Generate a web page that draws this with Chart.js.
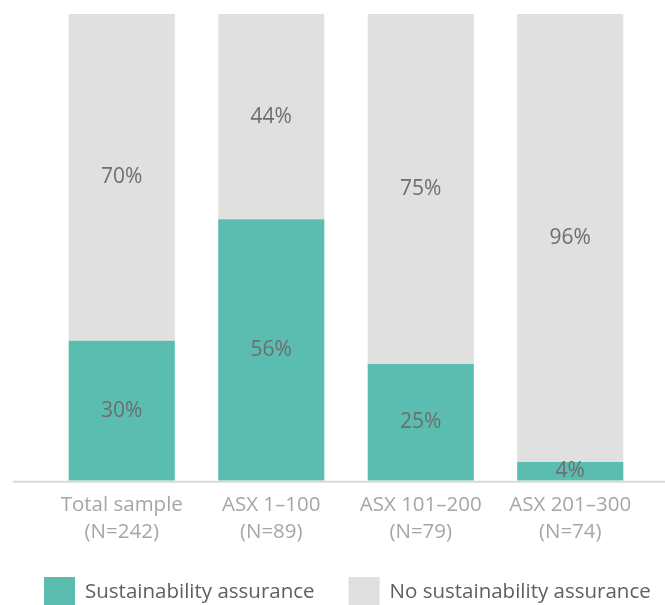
<!DOCTYPE html>
<html>
<head>
<meta charset="utf-8">
<script src="https://cdn.jsdelivr.net/npm/chart.js@4/dist/chart.umd.min.js"></script>
<style>
  html, body { margin: 0; padding: 0; background: #ffffff; }
  #wrap { width: 665px; height: 605px; position: relative; }
</style>
</head>
<body>
<div id="wrap"><canvas id="c" width="665" height="605"></canvas></div>
<script>
// Share of companies with and without sustainability assurance, by ASX band
const categories = [
  ['Total sample', '(N=242)'],
  ['ASX 1\u2013100', '(N=89)'],
  ['ASX 101\u2013200', '(N=79)'],
  ['ASX 201\u2013300', '(N=74)']
];
const assured = [30, 56, 25, 4];
const notAssured = [70, 44, 75, 96];
const seriesNames = ['Sustainability assurance', 'No sustainability assurance'];
const seriesColors = ['#5bbdb0', '#e0e0e0'];

const FONT = "'Open Sans', 'DejaVu Sans', sans-serif";
const LABEL_SIZE = 21;
const TEXT_SIZE = 20.5;

// Percent labels centred in each stacked segment
const segmentLabels = {
  id: 'segmentLabels',
  afterDatasetsDraw(chart) {
    const ctx = chart.ctx;
    ctx.save();
    ctx.font = LABEL_SIZE + 'px ' + FONT;
    ctx.fillStyle = '#6e6e6e';
    ctx.textAlign = 'center';
    ctx.textBaseline = 'middle';
    chart.data.datasets.forEach((ds, di) => {
      const meta = chart.getDatasetMeta(di);
      meta.data.forEach((bar, i) => {
        const y = (bar.y + bar.base) / 2;
        ctx.fillText(ds.data[i] + '%', bar.x, y);
      });
    });
    ctx.restore();
  }
};

// Baseline under the bars, running across the plot width
const baseLine = {
  id: 'baseLine',
  afterDatasetsDraw(chart) {
    const ctx = chart.ctx;
    const y = chart.scales.y.getPixelForValue(0);
    ctx.save();
    ctx.strokeStyle = '#d9d9d9';
    ctx.lineWidth = 2;
    ctx.beginPath();
    ctx.moveTo(13, y + 1);
    ctx.lineTo(chart.width, y + 1);
    ctx.stroke();
    ctx.restore();
  }
};

// Single-row legend along the bottom edge
const bottomLegend = {
  id: 'bottomLegend',
  afterDraw(chart) {
    const ctx = chart.ctx;
    ctx.save();
    ctx.font = TEXT_SIZE + 'px ' + FONT;
    ctx.textAlign = 'left';
    ctx.textBaseline = 'middle';
    let x = 44;
    const boxTop = 577, boxW = 31, boxH = 29, textY = 592;
    chart.data.datasets.forEach((ds) => {
      ctx.fillStyle = ds.backgroundColor;
      ctx.fillRect(x, boxTop, boxW, boxH);
      x += boxW + 10;
      ctx.fillStyle = '#5f5f5f';
      ctx.fillText(ds.label, x, textY);
      x += ctx.measureText(ds.label).width + 34;
    });
    ctx.restore();
  }
};

new Chart(document.getElementById('c'), {
  type: 'bar',
  data: {
    labels: categories,
    datasets: [
      { label: seriesNames[0], data: assured, backgroundColor: seriesColors[0] },
      { label: seriesNames[1], data: notAssured, backgroundColor: seriesColors[1] }
    ]
  },
  options: {
    responsive: false,
    animation: false,
    devicePixelRatio: 1,
    layout: { padding: { left: 47, right: 20, top: 14, bottom: 57 } },
    datasets: { bar: { barPercentage: 0.71, categoryPercentage: 1 } },
    scales: {
      x: {
        stacked: true,
        grid: { display: false },
        border: { display: false },
        ticks: {
          color: '#a6a6a6',
          font: { family: FONT, size: TEXT_SIZE, lineHeight: 1.3 },
          padding: 3,
          maxRotation: 0,
          autoSkip: false
        }
      },
      y: {
        stacked: true,
        display: false,
        min: 0,
        max: 100
      }
    },
    plugins: {
      tooltip: { enabled: false },
      legend: { display: false }
    }
  },
  plugins: [segmentLabels, baseLine, bottomLegend]
});
</script>
</body>
</html>
